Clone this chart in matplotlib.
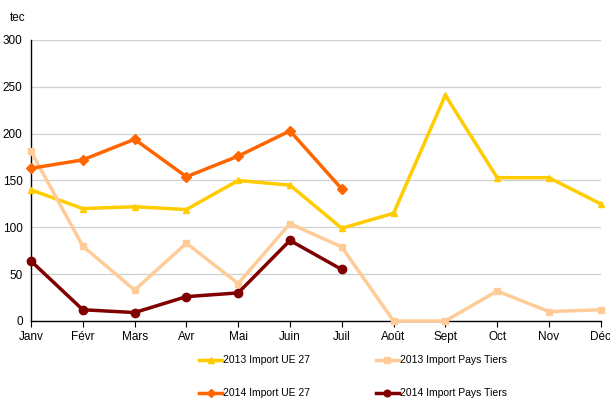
import matplotlib
matplotlib.use("Agg")
import matplotlib.pyplot as plt
import numpy as np

plt.rcParams["font.family"] = ["Liberation Sans", "DejaVu Sans"]

# ── Data ─────────────────────────────────────────────────────────────────────
months = ["Janv", "Févr", "Mars", "Avr", "Mai", "Juin", "Juil",
          "Août", "Sept", "Oct", "Nov", "Déc"]
ue27_2013 = [140, 120, 122, 119, 150, 145, 99, 115, 241, 153, 153, 125]
tiers_2013 = [181, 80, 33, 83, 40, 104, 79, 0, 0, 32, 10, 12]
ue27_2014 = [163, 172, 194, 154, 176, 203, 141]
tiers_2014 = [64, 12, 9, 26, 30, 86, 55]

series = {
    "2013 Import UE 27": (ue27_2013, "#FFCC00", "^", 5),
    "2013 Import Pays Tiers": (tiers_2013, "#FFCC99", "s", 5),
    "2014 Import UE 27": (ue27_2014, "#FF6600", "D", 5),
    "2014 Import Pays Tiers": (tiers_2014, "#800000", "o", 6),
}

fig = plt.figure(figsize=(6.10, 3.98), dpi=100)
ax = fig.add_axes([0.0508, 0.1935, 0.934, 0.706])

x = np.arange(len(months))
handles = {}
for label, (vals, color, marker, ms) in series.items():
    h, = ax.plot(x[:len(vals)], vals, color=color, marker=marker, markersize=ms,
                 linewidth=2.5, label=label, clip_on=False, zorder=3)
    handles[label] = h

ax.set_xlim(0, len(months) - 1)
ax.set_ylim(0, 300)
ax.set_yticks(range(0, 301, 50))
ax.set_xticks(x)
ax.set_xticklabels(months)
ax.tick_params(axis="both", labelsize=8.5, length=4, color="black")
ax.tick_params(axis="y", length=0, pad=6)
ax.yaxis.grid(True, color="#d0d0d0", linewidth=0.9)
ax.set_axisbelow(True)
for side in ("top", "right"):
    ax.spines[side].set_visible(False)
for side in ("left", "bottom"):
    ax.spines[side].set_color("black")
    ax.spines[side].set_linewidth(1.0)

fig.text(0.016, 0.955, "tec", fontsize=8.5, ha="left", va="center")

# legend fills column-first: 2013 row on top, 2014 row below
order = ["2013 Import UE 27", "2014 Import UE 27",
         "2013 Import Pays Tiers", "2014 Import Pays Tiers"]
fig.legend(handles=[handles[k] for k in order], loc="center",
           bbox_to_anchor=(0.579, 0.053), ncol=2, frameon=False,
           fontsize=7.5, handlelength=2.2, handletextpad=0.1,
           columnspacing=6.3, labelspacing=2.2, markerscale=0.8)

fig.savefig("out.png", dpi=100)
